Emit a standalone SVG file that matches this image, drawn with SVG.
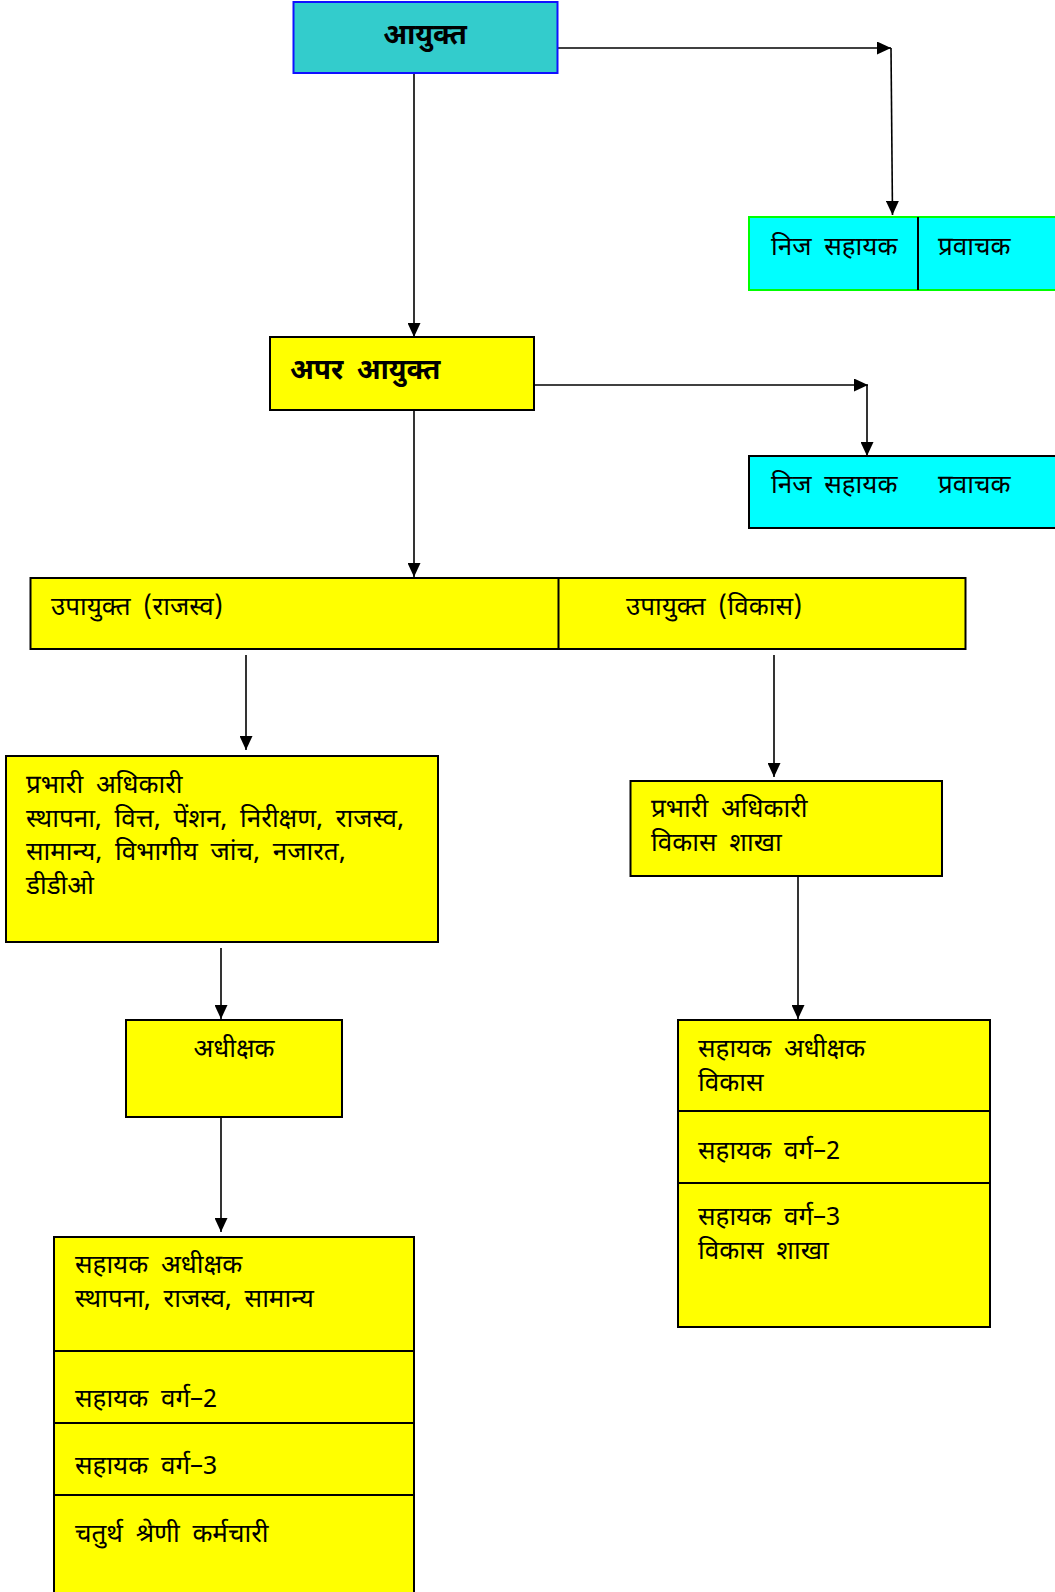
<svg xmlns="http://www.w3.org/2000/svg" width="1055" height="1592" viewBox="0 0 1055 1592">
<style>
.t{font-family:"Noto Sans Devanagari","Noto Sans","Lohit Devanagari","Liberation Sans",sans-serif;font-size:26px;word-spacing:6px;fill:#000}
.b{font-weight:bold;font-size:28px;word-spacing:6px}
.y{fill:#FFFF00;stroke:#000;stroke-width:2}
.c{fill:#00FFFF;stroke:#000;stroke-width:2}
.ln{stroke:#000;stroke-width:2;fill:none}
.cn{stroke:#000;stroke-width:1.6;fill:none}
</style>
<defs>
<marker id="ah" markerUnits="userSpaceOnUse" markerWidth="15" markerHeight="13" refX="14" refY="6.5" orient="auto">
<path d="M0,0 L14,6.5 L0,13 z" fill="#000"/>
</marker>
</defs>
<g id="connectors">
<path class="cn" d="M557,48 L891,48" marker-end="url(#ah)"/>
<path class="cn" d="M891,48 L892.5,215" marker-end="url(#ah)"/>
<path class="cn" d="M414,73 L414,337" marker-end="url(#ah)"/>
<path class="cn" d="M534,385 L868,385" marker-end="url(#ah)"/>
<path class="cn" d="M867,385 L867,456" marker-end="url(#ah)"/>
<path class="cn" d="M414,410 L414,577" marker-end="url(#ah)"/>
<path class="cn" d="M246,655 L246,750" marker-end="url(#ah)"/>
<path class="cn" d="M774,655 L774,777" marker-end="url(#ah)"/>
<path class="cn" d="M221,948 L221,1019" marker-end="url(#ah)"/>
<path class="cn" d="M221,1113 L221,1232" marker-end="url(#ah)"/>
<path class="cn" d="M798,876 L798,1019" marker-end="url(#ah)"/>
</g>
<g id="n-ayukt">
<rect x="293.5" y="2" width="264" height="71" fill="#33CCCC" stroke="#1010FF" stroke-width="2"/>
<text class="t b" x="425" y="44" text-anchor="middle">आयुक्त</text>
</g>
<g id="n-pa1">
<rect x="749" y="217" width="310" height="73" fill="#00FFFF" stroke="#00FF00" stroke-width="2"/>
<line class="ln" x1="918" y1="217" x2="918" y2="290"/>
<text class="t" x="771" y="255">निज सहायक</text>
<text class="t" x="938" y="255">प्रवाचक</text>
</g>
<g id="n-apar">
<rect class="y" x="270" y="337" width="264" height="73"/>
<text class="t b" x="290" y="379">अपर आयुक्त</text>
</g>
<g id="n-pa2">
<rect class="c" x="749" y="456" width="310" height="72"/>
<text class="t" x="771" y="493">निज सहायक</text>
<text class="t" x="938" y="493">प्रवाचक</text>
</g>
<g id="n-upayukt">
<rect class="y" x="30.5" y="578" width="935" height="71"/>
<line class="ln" x1="558.5" y1="578" x2="558.5" y2="649"/>
<text class="t" x="51" y="615">उपायुक्त (राजस्व)</text>
<text class="t" x="626" y="615">उपायुक्त (विकास)</text>
</g>
<g id="n-prabhari1">
<rect class="y" x="6" y="756" width="432" height="186"/>
<text class="t" x="26" y="793">प्रभारी अधिकारी</text>
<text class="t" x="26" y="827">स्थापना, वित्त, पेंशन, निरीक्षण, राजस्व,</text>
<text class="t" x="26" y="860">सामान्य, विभागीय जांच, नजारत,</text>
<text class="t" x="26" y="894">डीडीओ</text>
</g>
<g id="n-prabhari2">
<rect class="y" x="630.5" y="781" width="311.5" height="95"/>
<text class="t" x="651" y="817">प्रभारी अधिकारी</text>
<text class="t" x="651" y="851">विकास शाखा</text>
</g>
<g id="n-adhikshak">
<rect class="y" x="126" y="1020" width="216" height="97"/>
<text class="t" x="234" y="1057" text-anchor="middle">अधीक्षक</text>
</g>
<g id="n-left-stack">
<rect class="y" x="54" y="1237" width="360" height="370"/>
<line class="ln" x1="54" y1="1351" x2="414" y2="1351"/>
<line class="ln" x1="54" y1="1423" x2="414" y2="1423"/>
<line class="ln" x1="54" y1="1495" x2="414" y2="1495"/>
<text class="t" x="75" y="1273">सहायक अधीक्षक</text>
<text class="t" x="75" y="1307">स्थापना, राजस्व, सामान्य</text>
<text class="t" x="75" y="1407">सहायक वर्ग–2</text>
<text class="t" x="75" y="1474">सहायक वर्ग–3</text>
<text class="t" x="75" y="1542">चतुर्थ श्रेणी कर्मचारी</text>
</g>
<g id="n-right-stack">
<rect class="y" x="678" y="1020" width="312" height="307"/>
<line class="ln" x1="678" y1="1111" x2="990" y2="1111"/>
<line class="ln" x1="678" y1="1183" x2="990" y2="1183"/>
<text class="t" x="698" y="1057">सहायक अधीक्षक</text>
<text class="t" x="698" y="1091">विकास</text>
<text class="t" x="698" y="1159">सहायक वर्ग–2</text>
<text class="t" x="698" y="1225">सहायक वर्ग–3</text>
<text class="t" x="698" y="1259">विकास शाखा</text>
</g>
</svg>
